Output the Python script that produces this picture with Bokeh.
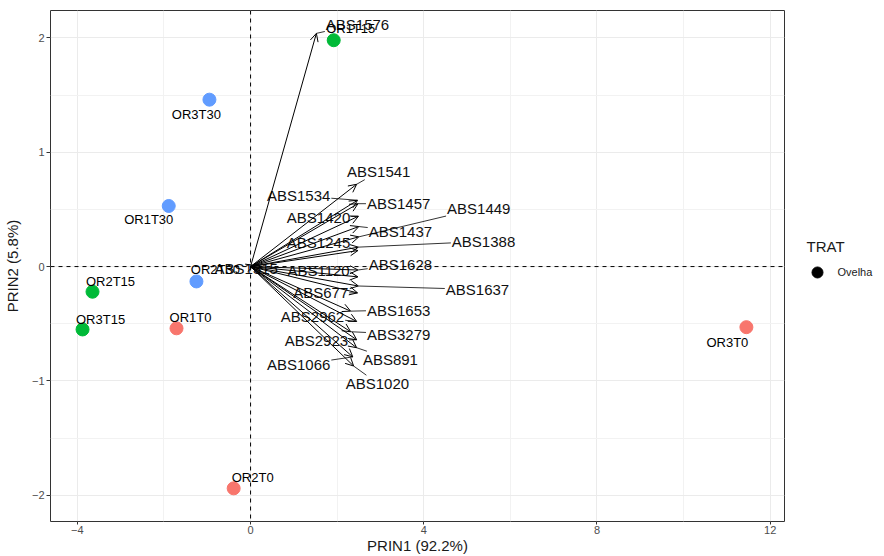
import math
from bokeh.plotting import figure
from bokeh.layouts import row
from bokeh.models import (Range1d, FixedTicker, Span, Arrow, OpenHead, ColumnDataSource)
from bokeh.embed import file_html
from bokeh.resources import INLINE
from bokeh.core.properties import value

# ---------------- data ----------------
obs_names = ["OR1T0", "OR2T0", "OR3T0", "OR1T15", "OR2T15", "OR3T15", "OR1T30", "OR2T30", "OR3T30"]
obs_prin1 = [-1.71, -0.39, 11.45, 1.92, -3.65, -3.88, -1.89, -1.25, -0.95]
obs_prin2 = [-0.54, -1.94, -0.53, 1.98, -0.22, -0.55, 0.53, -0.13, 1.46]
obs_group = ["T0", "T0", "T0", "T15", "T15", "T15", "T30", "T30", "T30"]

var_names = ["ABS1576", "ABS1541", "ABS1534", "ABS1457", "ABS1449", "ABS1420", "ABS1437",
             "ABS1388", "ABS1245", "ABS1628", "ABS1120", "ABS1637", "ABS677", "ABS1653",
             "ABS2962", "ABS3279", "ABS2923", "ABS891", "ABS1066", "ABS1020", "ABS1315"]
var_prin1 = [1.52, 2.45, 2.47, 2.48, 2.50, 2.49, 2.50, 2.49, 2.48, 2.48, 2.48, 2.49, 2.47, 2.31,
             2.45, 2.31, 2.45, 2.45, 2.36, 2.38, 0.08]
var_prin2 = [2.04, 0.72, 0.58, 0.55, 0.26, 0.44, 0.35, 0.17, 0.14, -0.03, -0.09, -0.17, -0.23,
             -0.39, -0.48, -0.57, -0.64, -0.71, -0.79, -0.87, 0.01]
# repelled label positions (data units)
var_label_x = [2.47, 2.96, 1.11, 3.42, 5.27, 1.57, 3.46, 5.38, 1.57, 3.46, 1.57, 5.24, 1.62,
               3.42, 1.43, 3.42, 1.52, 3.23, 1.11, 2.93, -0.10]
var_label_y = [2.12, 0.83, 0.62, 0.55, 0.51, 0.43, 0.31, 0.22, 0.21, 0.02, -0.03, -0.20, -0.23,
               -0.38, -0.44, -0.59, -0.65, -0.81, -0.86, -1.02, -0.02]

x_ticks = [-4, 0, 4, 8, 12]
y_ticks = [-2, -1, 0, 1, 2]

legend_title = "TRAT"
legend_labels = ["Ovelha"]

# ---------------- style ----------------
group_colors = {"T0": "#F8766D", "T15": "#00BA38", "T30": "#619CFF"}
# point label offsets in screen pixels (right, down)
obs_label_dx = [14, 19, -19, 17, 18, 18, -20, 19, -13]
obs_label_dy = [-11, -11, 15, -12, -10, -10, 14, -12, 15]

XMIN, XMAX = -4.62, 12.33
YMIN, YMAX = -2.23, 2.24
W, H = 786, 556
LW = 96
LB, RB, TB, BB = 50, 2, 10, 33
FONT = "Liberation Sans"

p = figure(width=W, height=H, output_backend="svg", toolbar_location=None,
           x_range=Range1d(XMIN, XMAX), y_range=Range1d(YMIN, YMAX),
           min_border_left=LB, min_border_right=RB, min_border_top=TB, min_border_bottom=BB)
p.background_fill_color = "white"
p.border_fill_color = "white"
p.outline_line_color = "#333333"
p.outline_line_width = 1

for ax, ticks, minor in ((p.xaxis[0], x_ticks, [-2, 2, 6, 10]),
                         (p.yaxis[0], y_ticks, [-1.5, -0.5, 0.5, 1.5])):
    ax.ticker = FixedTicker(ticks=ticks, minor_ticks=minor)
    ax.axis_line_color = None
    ax.major_tick_line_color = "#333333"
    ax.major_tick_out = 4
    ax.major_tick_in = 0
    ax.minor_tick_line_color = None
    ax.major_label_text_font = FONT
    ax.major_label_text_font_size = "11px"
    ax.major_label_text_color = "#4D4D4D"
    ax.major_label_standoff = 2
    ax.axis_label_text_font = FONT
    ax.axis_label_text_font_size = "15px"
    ax.axis_label_text_font_style = "normal"
    ax.axis_label_text_color = "#1A1A1A"
    ax.axis_label_standoff = 0

p.yaxis[0].axis_label_standoff = 8
p.xaxis[0].major_label_standoff = 0
p.xaxis[0].major_tick_out = 3
p.xaxis.axis_label = "PRIN1 (92.2%)"
p.yaxis.axis_label = "PRIN2 (5.8%)"

for g in (p.xgrid[0], p.ygrid[0]):
    g.grid_line_color = "#EBEBEB"
    g.grid_line_width = 1
    g.minor_grid_line_color = "#F2F2F2"
    g.minor_grid_line_width = 1

p.add_layout(Span(location=0, dimension="width", line_color="black", line_dash="4 4", line_width=1))
p.add_layout(Span(location=0, dimension="height", line_color="black", line_dash="4 4", line_width=1))

# variable labels (drawn below arrows)
p.text(x=var_label_x, y=var_label_y, text=var_names, text_font=value(FONT),
       text_font_size="15px", text_color="#111111", text_align="center", text_baseline="middle")

# repel connector segments
FW = W - LB - RB
FH = H - TB - BB
sx = FW / (XMAX - XMIN)
sy = FH / (YMAX - YMIN)
seg = dict(x0=[], y0=[], x1=[], y1=[])
for name, tx, ty, lx, ly in zip(var_names, var_prin1, var_prin2, var_label_x, var_label_y):
    hw = sum(0.667 if c.isalpha() else 0.556 for c in name) * 15 / 2 + 1
    hh = 8
    dx = (tx - lx) * sx
    dy = (ty - ly) * sy
    dist = math.hypot(dx, dy)
    if dist == 0:
        continue
    t = min(hw / abs(dx) if dx else 1e9, hh / abs(dy) if dy else 1e9)
    if t >= 1:
        continue
    if dist * (1 - t) < 7:
        continue
    seg["x0"].append(lx + t * dx / sx)
    seg["y0"].append(ly + t * dy / sy)
    seg["x1"].append(tx)
    seg["y1"].append(ty)
p.segment(x0="x0", y0="y0", x1="x1", y1="y1", source=ColumnDataSource(seg),
          line_color="black", line_width=0.8)

# loading arrows
arrow_src = ColumnDataSource(dict(x0=[0] * len(var_names), y0=[0] * len(var_names),
                                  x1=var_prin1, y1=var_prin2))
p.add_layout(Arrow(end=OpenHead(size=8, line_width=1, line_color="black"),
                   x_start="x0", y_start="y0", x_end="x1", y_end="y1",
                   source=arrow_src, line_color="black", line_width=1))

# observations
obs_src = ColumnDataSource(dict(x=obs_prin1, y=obs_prin2, name=obs_names,
                                color=[group_colors[g] for g in obs_group],
                                dx=obs_label_dx, dy=obs_label_dy))
p.scatter(x="x", y="y", source=obs_src, marker="circle", size=13,
          fill_color="color", line_color="color")
p.text(x="x", y="y", text="name", source=obs_src, x_offset="dx", y_offset="dy",
       text_font=value(FONT), text_font_size="13px", text_color="black",
       text_align="center", text_baseline="middle")

# ---------------- legend panel (separate small figure) ----------------
# its frame is aligned with the main frame (rows 10..523), so use screen-like units
lg = figure(width=LW, height=H, output_backend="svg", toolbar_location=None,
            x_range=Range1d(0, LW), y_range=Range1d(H - BB, TB),
            x_axis_type=None, y_axis_type=None, title=None,
            min_border_left=0, min_border_right=0, min_border_top=TB, min_border_bottom=BB)
lg.outline_line_color = None
lg.grid.visible = False
lg.background_fill_color = "white"
lg.border_fill_color = "white"
lg.text(x=[20], y=[247], text=[legend_title], text_font=value(FONT), text_font_size="15px",
        text_color="#1A1A1A", text_align="left", text_baseline="middle")
lg.scatter(x=[31] * len(legend_labels), y=[273], marker="circle", size=11, color="black")
lg.text(x=[51] * len(legend_labels), y=[273], text=legend_labels, text_font=value(FONT),
        text_font_size="11px", text_color="#1A1A1A", text_align="left", text_baseline="middle")

layout = row(p, lg, spacing=0)
open("out.html", "w").write(file_html(layout, INLINE))
